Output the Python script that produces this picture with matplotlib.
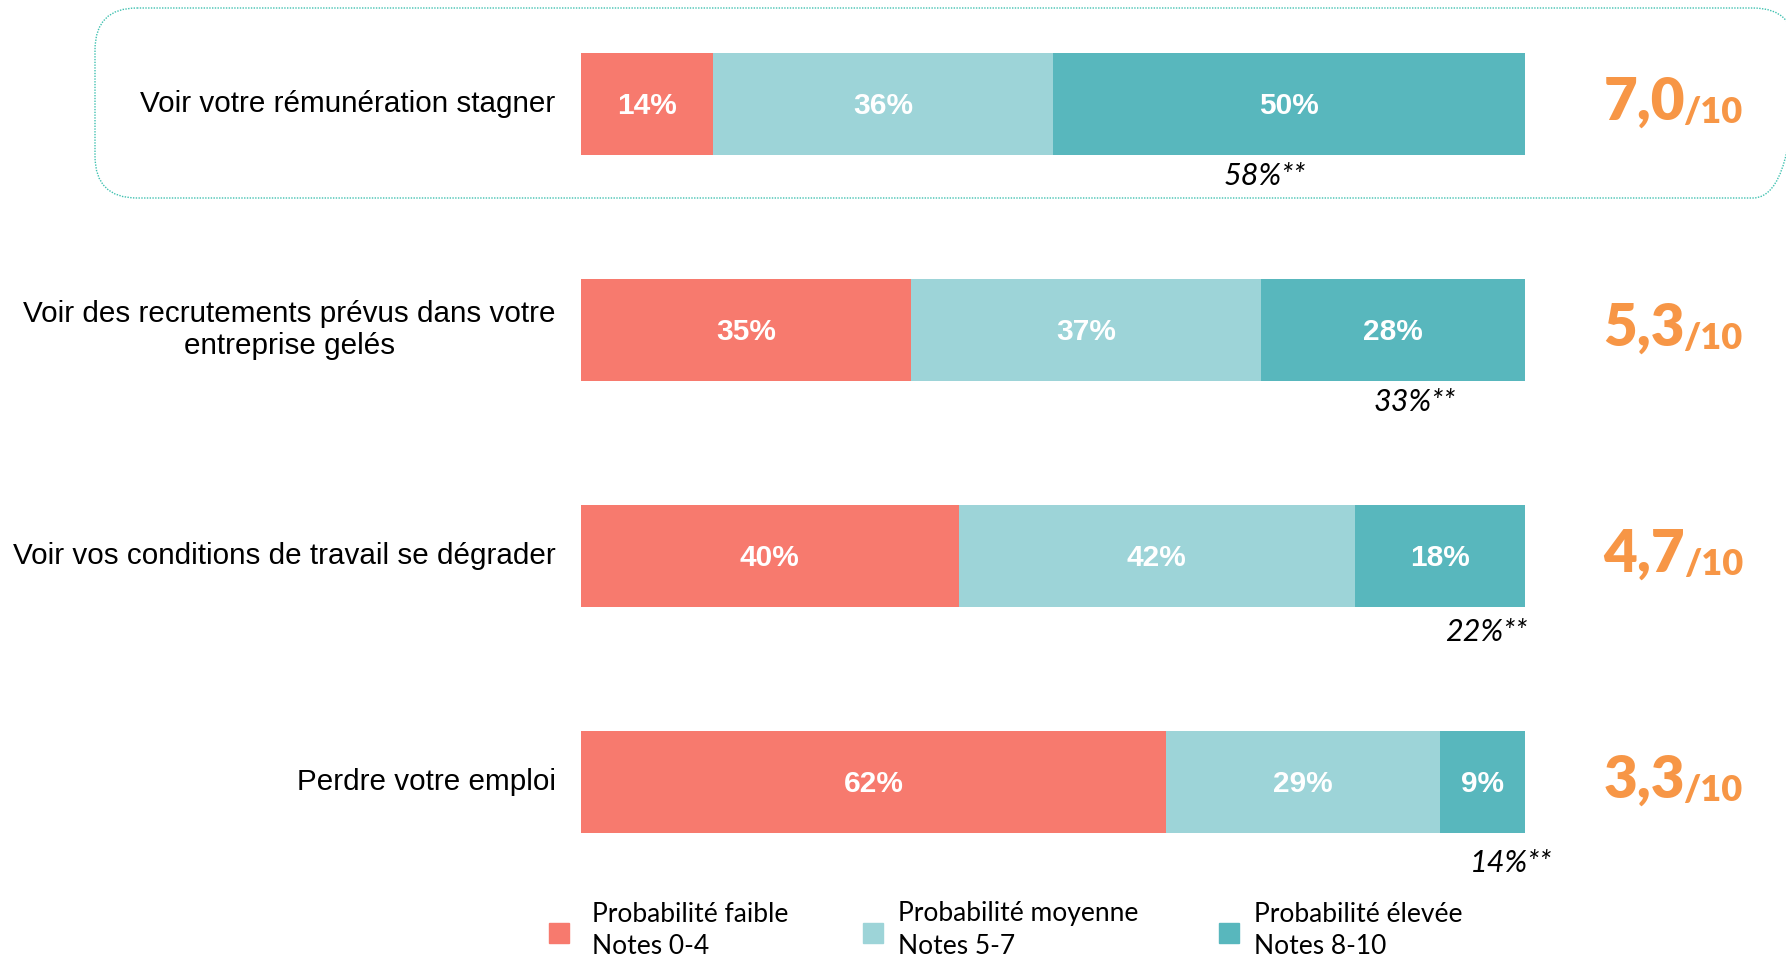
import matplotlib.pyplot as plt
from matplotlib.patches import FancyBboxPatch, Rectangle

# data
categories = ["Voir votre rémunération stagner",
              "Voir des recrutements prévus dans votre\nentreprise gelés",
              "Voir vos conditions de travail se dégrader",
              "Perdre votre emploi"]
faible = [14, 35, 40, 62]
moyenne = [36, 37, 42, 29]
elevee = [50, 28, 18, 9]
notes_hautes = ["58%**", "33%**", "22%**", "14%**"]
scores = ["7,0", "5,3", "4,7", "3,3"]
legend_titles = ["Probabilité faible", "Probabilité moyenne", "Probabilité élevée"]
legend_notes = ["Notes 0-4", "Notes 5-7", "Notes 8-10"]

colors = ["#F77A6E", "#9DD4D8", "#58B7BD"]
orange = "#F79646"

W, H = 1786, 957
fig = plt.figure(figsize=(W / 100, H / 100), dpi=100)

# background axes in pixel coords (box + legend)
bg = fig.add_axes([0, 0, 1, 1])
bg.set_xlim(0, W)
bg.set_ylim(H, 0)
bg.axis("off")

box = FancyBboxPatch((95, 8), 1700, 190, boxstyle="round,pad=0,rounding_size=42",
                     fill=False, edgecolor="#3FC1B0", linestyle=(0, (1, 1)), linewidth=1.0)
bg.add_patch(box)

# bar axes
row_px = [104, 330, 557, 782]
step = (row_px[-1] - row_px[0]) / 3
x0, x1 = 581, 1525
ax = fig.add_axes([x0 / W, 0, (x1 - x0) / W, 1])
ax.set_xlim(0, 100)
ax.set_ylim((H - row_px[0]) / step, -row_px[0] / step)
ax.axis("off")

rows = range(len(categories))
bh = 102 / step
left = [0] * len(categories)
for series, col in zip([faible, moyenne, elevee], colors):
    ax.barh(list(rows), series, left=left, height=bh, color=col, edgecolor="none")
    for i, v in enumerate(series):
        ax.text(left[i] + v / 2, i + 0.01, f"{v}%", ha="center", va="center", color="white",
                fontsize=21.5, fontweight="bold", family="Liberation Sans")
    left = [l + v for l, v in zip(left, series)]

# category labels
for i, lab in enumerate(categories):
    ax.text(-2.7, i, lab, ha="right", va="center", multialignment="center",
            fontsize=21.3, family="Liberation Sans", color="black", linespacing=1.2)

# top-box share annotations
note_x = [72.4, 88.3, 95.9, 98.5]
note_dy = [0.32, 0.32, 0.335, 0.36]
for i, t in enumerate(notes_hautes):
    ax.text(note_x[i], i + note_dy[i], t, ha="center", va="center", style="italic",
            fontsize=22, family="Lato", color="black")

# mean scores
for i, s in enumerate(scores):
    t = ax.text(108.3, i + 0.07, s, ha="left", va="baseline", fontsize=42,
                fontweight="heavy", family="Lato", color=orange)
    ax.annotate("/10", xy=(1, 0), xycoords=t, xytext=(-1, 0), textcoords="offset points",
                ha="left", va="bottom", fontsize=26, fontweight="heavy", family="Lato",
                color=orange)

# legend
leg_sq_x = [549, 863, 1219]
leg_tx_x = [592, 898, 1254]
for c, sx, tx, t1, t2 in zip(colors, leg_sq_x, leg_tx_x, legend_titles, legend_notes):
    bg.add_patch(Rectangle((sx, 923), 20, 20, color=c))
    bg.text(tx, 914, t1, ha="left", va="center", fontsize=19, family="Lato")
    bg.text(tx, 947, t2, ha="left", va="center", fontsize=19, family="Lato")

fig.savefig("out.png", dpi=100)
